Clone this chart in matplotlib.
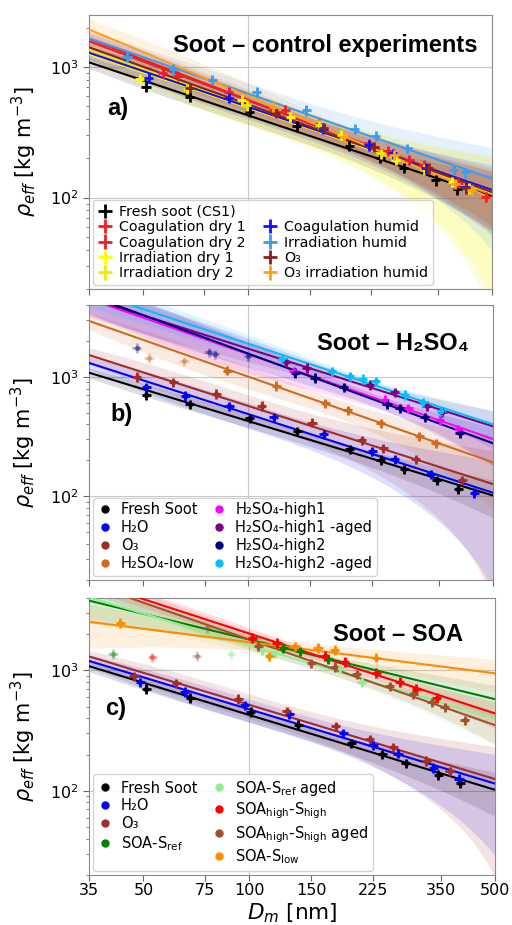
import numpy as np
import matplotlib.pyplot as plt
from matplotlib.lines import Line2D
from matplotlib.ticker import FixedLocator, FixedFormatter, NullLocator

D_MIN, D_MAX = 35, 500
X_TICKS = [35, 50, 75, 100, 150, 225, 350, 500]
X_ERR_REL = 0.03   # relative size of the error bars (estimated)
Y_ERR_REL = 0.09

# fresh soot (same data in every panel)
fresh_d = [51, 68, 101, 138, 195, 239, 279, 345, 398]
fresh_rho = [703, 590, 453, 352, 248, 202, 169, 136, 116]

# ---- panel a: control experiments
a_labels = ["Fresh soot (CS1)", "Coagulation dry 1", "Coagulation dry 2",
            "Irradiation dry 1", "Irradiation dry 2", "Coagulation humid",
            "Irradiation humid", "O\u2083", "O\u2083 irradiation humid"]
a_d = [fresh_d,
       [63, 118, 160, 252, 319, 480],
       [57, 88, 128, 222, 290, 400],
       [49, 96, 132, 185, 265, 385],
       [67, 99, 160, 240, 320, 430],
       [52, 88, 164, 222, 260, 323, 421],
       [45, 61, 79, 106, 147, 202, 232, 286, 389, 419],
       [68, 120, 165, 230, 330, 420],
       [118, 188, 262, 393, 438]]
a_rho = [fresh_rho,
         [853, 468, 369, 227, 177, 102],
         [900, 640, 470, 260, 195, 130],
         [815, 557, 415, 301, 194, 132],
         [684, 510, 360, 218, 165, 118],
         [824, 580, 338, 252, 218, 168, 121],
         [1192, 960, 800, 644, 467, 338, 297, 238, 163, 156],
         [692, 448, 342, 245, 168, 118],
         [495, 292, 212, 128, 114]]
# relative half-width of the fit band at 35 nm and at 500 nm
a_band_lo = [0.10, 0.15, 0.15, 0.12, 0.12, 0.12, 0.12, 0.20, 0.20]
a_band_hi = [0.45, 0.50, 0.50, 0.85, 0.90, 0.55, 0.72, 0.45, 0.40]
a_colors = ["#000000", "#ff1a1a", "#e8202a", "#ffff00", "#f0e800",
            "#1010ff", "#3c9cf0", "#8b2020", "#ffa01a"]

# ---- panel b: H2SO4
b_labels = ["Fresh Soot", "H\u2082O", "O\u2083", "H\u2082SO\u2084-low",
            "H\u2082SO\u2084-high1", "H\u2082SO\u2084-high1 -aged",
            "H\u2082SO\u2084-high2", "H\u2082SO\u2084-high2 -aged"]
b_d = [fresh_d,
       [51, 66, 88, 118, 164, 226, 262, 332, 442],
       [48, 61, 81, 109, 152, 211, 243, 301, 409],
       [87, 120, 166, 192, 239, 308, 343],
       [135, 245, 286, 352, 398],
       [128, 147, 222, 262, 323, 358],
       [136, 155, 187, 249, 271, 319, 402],
       [125, 173, 195, 212, 231, 280, 316, 356]]
b_rho = [fresh_rho,
         [824, 697, 566, 460, 333, 239, 204, 153, 107],
         [1000, 902, 724, 573, 415, 296, 252, 204, 136],
         [1131, 845, 604, 524, 409, 320, 278],
         [1116, 644, 548, 437, 364],
         [1329, 1191, 862, 743, 566, 504],
         [1081, 981, 824, 596, 548, 460, 337],
         [1418, 1116, 1013, 968, 919, 710, 612, 514]]
# points left out of the fits (drawn faded)
b_excl_d = [[], [], [], [52, 65.5], [], [], [48, 77, 80, 100], []]
b_excl_rho = [[], [], [], [1446, 1355], [], [], [1755, 1616, 1543, 1494], []]
b_band_lo = [0.10, 0.12, 0.15, 0.15, 0.25, 0.30, 0.30, 0.25]
b_band_hi = [0.35, 0.85, 0.90, 0.60, 0.40, 0.35, 0.35, 0.30]
b_colors = ["#000000", "#0000ff", "#a52a2a", "#d2691e",
            "#ff00ff", "#800080", "#000080", "#00bfff"]

# ---- panel c: SOA
c_labels = ["Fresh Soot", "H\u2082O", "O\u2083", r"SOA-S$_{\mathrm{ref}}$",
            r"SOA-S$_{\mathrm{ref}}$ aged",
            r"SOA$_{\mathrm{high}}$-S$_{\mathrm{high}}$",
            r"SOA$_{\mathrm{high}}$-S$_{\mathrm{high}}$ aged",
            r"SOA-S$_{\mathrm{low}}$"]
c_d = [fresh_d,
       [49, 65.5, 97, 130, 185, 225, 265, 334, 395],
       [47, 62, 93, 128, 176, 220, 257, 319, 372],
       [125, 139, 168],
       [109, 118, 181, 209],
       [102, 120, 164, 187, 230, 268, 299, 341],
       [106, 150, 175, 202, 251, 293, 330, 360, 410],
       [43, 114, 135, 157, 175, 230]]
c_rho = [fresh_rho,
         [797, 665, 513, 431, 301, 240, 204, 155, 126],
         [896, 782, 583, 459, 343, 268, 229, 177, 145],
         [1535, 1438, 1247],
         [1485, 1392, 1040, 802],
         [1863, 1691, 1322, 1184, 955, 802, 704, 591],
         [1606, 1146, 1074, 931, 737, 631, 543, 493, 385],
         [2495, 1305, 1585, 1535, 1485, 1279]]
c_excl_d = [[], [], [], [41], [89], [53], [71, 76], []]
c_excl_rho = [[], [], [], [1374], [1374], [1288], [1322, 2234], []]
c_band_lo = [0.10, 0.12, 0.12, 0.35, 0.30, 0.15, 0.15, 0.40]
c_band_hi = [0.40, 0.75, 0.85, 0.30, 0.40, 0.25, 0.30, 0.30]
c_colors = ["#000000", "#0000ff", "#a52a2a", "#008000",
            "#90ee90", "#ff0000", "#a0522d", "#ff8c00"]

TITLE_FONT = ["Liberation Sans", "DejaVu Sans"]


def fit_band(d, rho, rel_lo, rel_hi, xs):
    """Power-law fit in log-log space plus a widening band (linear space)."""
    lx, ly = np.log10(d), np.log10(rho)
    slope, icpt = np.polyfit(lx, ly, 1)
    xl = np.log10(xs)
    fit = 10 ** (icpt + slope * xl)
    n = len(lx)
    m = lx.mean()
    sxx = ((lx - m) ** 2).sum()

    def shape(v):
        return np.sqrt(1 / n + (v - m) ** 2 / sxx)

    l0, l1 = np.log10(D_MIN), np.log10(D_MAX)
    k_lo, k_hi = rel_lo / shape(l0), rel_hi / shape(l1)
    k = k_lo + (k_hi - k_lo) * (xl - l0) / (l1 - l0)
    rel = k * shape(xl)
    lo = fit * np.clip(1 - rel, 1e-3, None)
    hi = fit * (1 + rel)
    return fit, lo, hi


def draw_panel(ax, labels, ds, rhos, colors, band_lo, band_hi,
               excl_d=None, excl_rho=None, dots=True):
    xs = np.geomspace(D_MIN, D_MAX, 300)
    handles = []
    for i, lab in enumerate(labels):
        d = np.asarray(ds[i], float)
        r = np.asarray(rhos[i], float)
        col = colors[i]
        fit, lo, hi = fit_band(d, r, band_lo[i], band_hi[i], xs)
        ax.fill_between(xs, lo, hi, color=col, alpha=0.13, lw=0, zorder=1)
        ax.plot(xs, fit, color=col, lw=1.5, zorder=3)
        h = ax.errorbar(d, r, xerr=X_ERR_REL * d, yerr=Y_ERR_REL * r,
                        fmt="none", ecolor=col, elinewidth=2.0, capsize=0,
                        zorder=4, label=lab)
        if dots:
            ax.plot(d, r, "o", color=col, ms=3, zorder=5)
        if excl_d is not None and len(excl_d[i]):
            ed = np.asarray(excl_d[i], float)
            er = np.asarray(excl_rho[i], float)
            ax.errorbar(ed, er, xerr=X_ERR_REL * ed, yerr=Y_ERR_REL * er,
                        fmt="o", ms=3, color=col, ecolor=col, elinewidth=2.0,
                        capsize=0, alpha=0.3, zorder=4)
        handles.append(h)
    return handles


def style_axis(ax, ylim, show_xlabels):
    ax.set_xscale("log")
    ax.set_yscale("log")
    ax.set_xlim(D_MIN, D_MAX)
    ax.set_ylim(*ylim)
    ax.xaxis.set_major_locator(FixedLocator(X_TICKS))
    ax.xaxis.set_minor_locator(NullLocator())
    if show_xlabels:
        ax.xaxis.set_major_formatter(FixedFormatter([str(t) for t in X_TICKS]))
    else:
        ax.xaxis.set_major_formatter(FixedFormatter([""] * len(X_TICKS)))
    ax.tick_params(axis="both", which="major", labelsize=11.5, length=4,
                   color="#666666")
    ax.tick_params(axis="x", which="major", pad=2)
    ax.tick_params(axis="y", which="minor", length=2, color="#666666")
    for sp in ax.spines.values():
        sp.set_color("#8c8c8c")
    ax.axvline(100, color="#c8c8c8", lw=0.8, zorder=0)
    for yv in (100, 1000):
        ax.axhline(yv, color="#c8c8c8", lw=0.8, zorder=0)
    ax.set_ylabel(r"$\rho_{eff}$ [kg m$^{-3}$]", fontsize=15)
    ax.yaxis.set_label_coords(-0.125, 0.5)


fig = plt.figure(figsize=(5.12, 9.25), dpi=100)
ax_a = fig.add_axes([0.1738, 0.6876, 0.7871, 0.2962])
ax_b = fig.add_axes([0.1738, 0.3730, 0.7890, 0.2973])
ax_c = fig.add_axes([0.1738, 0.0541, 0.7930, 0.2995])

# panel a
h_a = draw_panel(ax_a, a_labels, a_d, a_rho, a_colors, a_band_lo, a_band_hi,
                 dots=False)
style_axis(ax_a, (20, 2500), False)
blank = Line2D([], [], alpha=0)
leg_h = h_a[:5] + [blank] + h_a[5:]
leg_l = a_labels[:5] + [""] + a_labels[5:]
ax_a.legend(leg_h, leg_l, ncol=2, loc="lower left", fontsize=10.3,
            labelspacing=0.1, handlelength=1.0, handletextpad=0.5,
            columnspacing=1.2, borderaxespad=0.3, framealpha=0.85,
            borderpad=0.3)
ax_a.text(0.965, 0.93, "Soot \u2013 control experiments", transform=ax_a.transAxes,
          ha="right", va="top", fontsize=17, fontweight="bold", family=TITLE_FONT)
ax_a.text(0.045, 0.66, "a)", transform=ax_a.transAxes, ha="left", va="center",
          fontsize=17, fontweight="bold", family=TITLE_FONT)

# panel b
draw_panel(ax_b, b_labels, b_d, b_rho, b_colors, b_band_lo, b_band_hi,
           b_excl_d, b_excl_rho)
style_axis(ax_b, (20, 4000), False)
hb = [Line2D([], [], marker="o", ls="none", color=c, ms=5) for c in b_colors]
ax_b.legend(hb, b_labels, ncol=2, loc="lower left", fontsize=10.5,
            labelspacing=0.2, handlelength=1.0, handletextpad=0.6,
            columnspacing=1.0, borderaxespad=0.3, framealpha=0.85,
            borderpad=0.3)
ax_b.text(0.94, 0.9, "Soot \u2013 H\u2082SO\u2084", transform=ax_b.transAxes,
          ha="right", va="top", fontsize=17, fontweight="bold", family=TITLE_FONT)
ax_b.text(0.052, 0.6, "b)", transform=ax_b.transAxes, ha="left", va="center",
          fontsize=17, fontweight="bold", family=TITLE_FONT)

# panel c
draw_panel(ax_c, c_labels, c_d, c_rho, c_colors, c_band_lo, c_band_hi,
           c_excl_d, c_excl_rho)
style_axis(ax_c, (20, 4000), True)
hc = [Line2D([], [], marker="o", ls="none", color=c, ms=5) for c in c_colors]
ax_c.legend(hc, c_labels, ncol=2, loc="lower left", fontsize=10.5,
            labelspacing=0.2, handlelength=1.0, handletextpad=0.6,
            columnspacing=1.0, borderaxespad=0.3, framealpha=0.85,
            borderpad=0.3)
ax_c.text(0.92, 0.91, "Soot \u2013 SOA", transform=ax_c.transAxes,
          ha="right", va="top", fontsize=17, fontweight="bold", family=TITLE_FONT)
ax_c.text(0.04, 0.6, "c)", transform=ax_c.transAxes, ha="left", va="center",
          fontsize=17, fontweight="bold", family=TITLE_FONT)
ax_c.set_xlabel(r"$D_m$ [nm]", fontsize=15.5)
ax_c.xaxis.set_label_coords(0.5, -0.095)

fig.savefig("out.png", dpi=100)
